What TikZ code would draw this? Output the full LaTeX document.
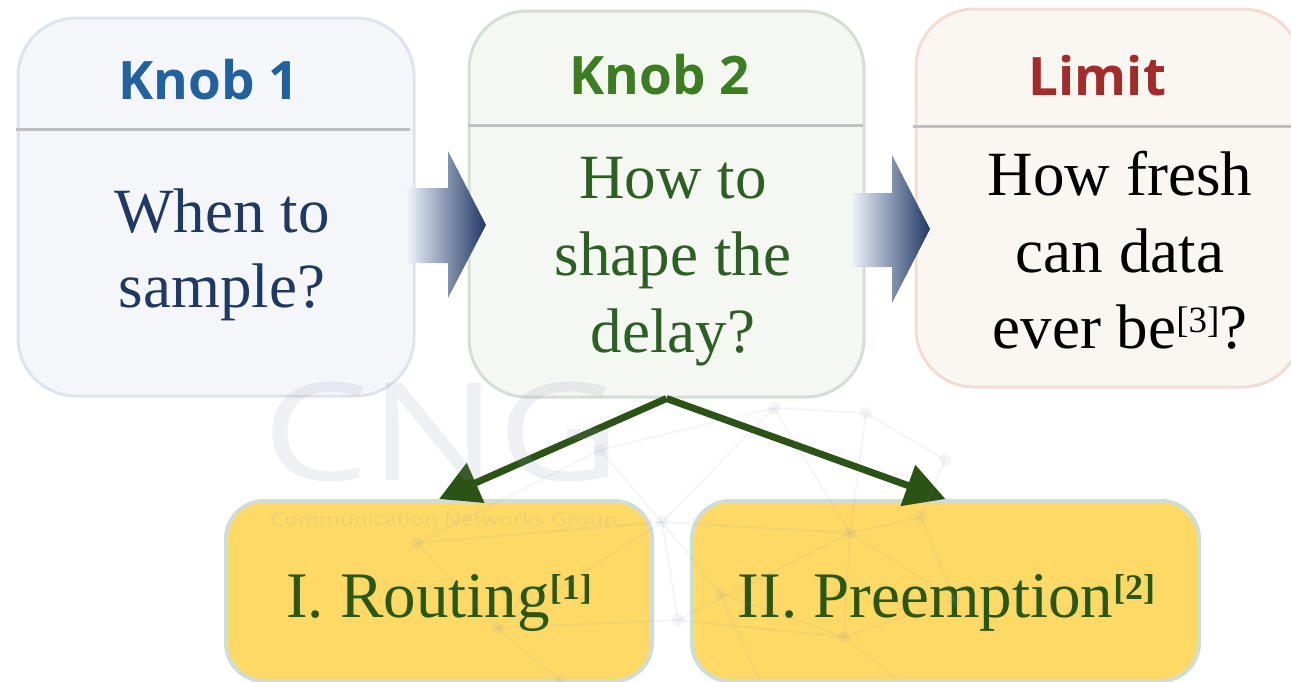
\documentclass[tikz,border=0pt]{standalone}
\usepackage{fontspec}
\setmainfont{Liberation Serif}
\newfontfamily\headfont{Open Sans}
\usetikzlibrary{arrows.meta,calc}

\definecolor{kAfill}{HTML}{F4F6FA}
\definecolor{kAedge}{HTML}{DCE4F0}
\definecolor{kAtitle}{HTML}{2260A0}
\definecolor{kAtext}{HTML}{1F3864}
\definecolor{kBfill}{HTML}{F4F7F2}
\definecolor{kBedge}{HTML}{D3DFD3}
\definecolor{kBtitle}{HTML}{3C7D22}
\definecolor{kBtext}{HTML}{2C5F22}
\definecolor{limfill}{HTML}{FAF7F3}
\definecolor{limedge}{HTML}{F4DCD3}
\definecolor{limtitle}{HTML}{A52B2A}
\definecolor{subfill}{HTML}{FFD966}
\definecolor{subedge}{HTML}{D0DDD5}
\definecolor{subtext}{HTML}{2B5716}
\definecolor{divgray}{HTML}{BFBFBF}
\definecolor{arrowlight}{HTML}{EEF3FB}
\definecolor{arrownavy}{HTML}{203864}
\definecolor{conngreen}{HTML}{2B5316}
\definecolor{wmgray}{HTML}{8A93AC}

\tikzset{
  topbox/.style={draw, line width=3pt, rounded corners=58pt, inner sep=0pt},
  subbox/.style={draw=subedge, fill=subfill, line width=4pt, rounded corners=38pt, inner sep=0pt},
  divider/.style={draw=divgray, line width=3pt},
  titletext/.style={inner sep=0pt, anchor=base, font=\headfont\bfseries\fontsize{53}{60}\selectfont},
  bodytext/.style={inner sep=0pt, anchor=base, font=\fontsize{63}{76}\selectfont},
  subtextstyle/.style={inner sep=0pt, anchor=base, text=subtext, font=\fontsize{65}{76}\selectfont},
  flowarrow/.style={left color=arrowlight, right color=arrownavy},
  branch/.style={draw=conngreen, line width=7pt, -{Triangle[length=40pt,width=42pt]}},
  wm/.style={inner sep=0pt, opacity=0.14, text=wmgray},
  wmline/.style={draw=wmgray, line width=2pt, opacity=0.09},
}

\newcommand{\supref}[1]{\raisebox{18pt}{\fontsize{36}{40}\selectfont\textbf{#1}}}
\newcommand{\supplain}[1]{\raisebox{16pt}{\fontsize{37}{40}\selectfont #1}}

\begin{document}
\begin{tikzpicture}[x=1pt,y=-1pt]
\path[use as bounding box] (0,0) rectangle (1291,681);
\clip (0,0) rectangle (1291,681);

% top row of boxes
\node[topbox, draw=kAedge, fill=kAfill, minimum width=396pt, minimum height=378pt] (k1) at (216,207) {};
\node[topbox, draw=kBedge, fill=kBfill, minimum width=395pt, minimum height=386pt] (k2) at (666.5,204) {};
\node[topbox, draw=limedge, fill=limfill, minimum width=385pt, minimum height=378pt] (lim) at (1108.5,198) {};

% header separators
\draw[divider] (16,129) -- (410,129);
\draw[divider] (468,125) -- (863,125);
\draw[divider] (913,126) -- (1291,126);

% bottom boxes
\node[subbox, minimum width=426pt, minimum height=180pt] (route) at (439,591) {};
\node[subbox, minimum width=507pt, minimum height=180pt] (preempt) at (945.5,591) {};

% shaded block arrows between the top boxes
\shade[flowarrow] (407,188) -- (448,188) -- (448,151) -- (486,225) -- (448,298) -- (448,263) -- (407,263) -- cycle;
\shade[flowarrow] (852,193) -- (892,193) -- (892,155) -- (930,229) -- (892,303) -- (892,267) -- (852,267) -- cycle;

% branches from Knob 2
\draw[branch] (k2.south) -- (route.north);
\draw[branch] (k2.south) -- (preempt.north);

% titles
\node[titletext, text=kAtitle] (k1title) at (209,99) {Knob 1};
\node[titletext, text=kBtitle] (k2title) at (660,94) {Knob 2};
\node[titletext, text=limtitle] (limtitle) at (1097.5,95) {Limit};

% body texts
\node[bodytext, text=kAtext] (k1l1) at (222,232) {When to};
\node[bodytext, text=kAtext] (k1l2) at (222,307) {sample?};

\node[bodytext, text=kBtext] (k2l1) at (673,198) {How to};
\node[bodytext, text=kBtext] (k2l2) at (673,275) {shape the};
\node[bodytext, text=kBtext] (k2l3) at (673,352) {delay?};

\node[bodytext, text=black] (liml1) at (1120,195) {How fresh};
\node[bodytext, text=black] (liml2) at (1120,272) {can data};
\node[bodytext, text=black] (liml3) at (1120,348) {ever be\supplain{[3]}?};

\node[subtextstyle] (routetext) at (439,617) {I. Routing\supref{[1]}};
\node[subtextstyle] (preempttext) at (946.5,617) {II. Preemption\supref{[2]}};

% faint group watermark: network globe and lettering
\foreach \a/\b in {774/408, 866/413, 662/522, 850/533, 921/517, 678/620, 417/543, 497/628, 844/637, 600/450, 945/460, 560/681, 955/600, 720/593}
  \fill[wmgray, opacity=0.09] (\a,\b) circle (6pt);
\draw[wmline] (774,408) -- (866,413) -- (945,460) -- (921,517) -- (955,600) -- (844,637) -- (678,620) -- (497,628) -- (417,543) -- (600,450) -- (774,408);
\draw[wmline] (774,408) -- (662,522) -- (850,533) -- (866,413);
\draw[wmline] (662,522) -- (678,620) -- (850,533) -- (921,517);
\draw[wmline] (850,533) -- (844,637) -- (720,593) -- (662,522) -- (417,543);
\draw[wmline] (600,450) -- (662,522) -- (497,628) -- (560,681);
\draw[wmline] (774,408) -- (850,533) -- (955,600);
\draw[wmline] (844,637) -- (900,681);
\draw[wmline] (720,593) -- (760,681);

\node[wm, anchor=base west, font=\headfont\fontsize{136}{140}\selectfont] (wmbig) at (262,480) {\scalebox{1.25}[1]{CNG}};
\node[wm, anchor=base west, font=\headfont\fontsize{17}{18}\selectfont] (wmsmall) at (270,525) {\scalebox{1.33}[1]{Communication Networks Group}};
\end{tikzpicture}
\end{document}
